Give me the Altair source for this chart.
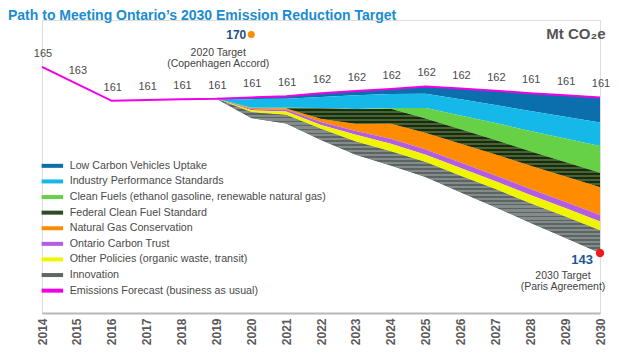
import altair as alt
import pandas as pd

# ---------------- data ----------------
years_all = list(range(2014, 2031))
forecast = [164.9, 162.9, 160.9, 161.0, 161.1, 161.15, 161.3, 161.45, 161.8, 162.05,
            162.3, 162.6, 162.35, 162.1, 161.8, 161.55, 161.3]
forecast_labels = [165, 163, 161, 161, 161, 161, 161, 161, 162, 162, 162, 162, 162, 162,
                   161, 161, 161]

years_red = list(range(2019, 2031))
categories = [
    "Low Carbon Vehicles Uptake",
    "Industry Performance Standards",
    "Clean Fuels (ethanol gasoline, renewable natural gas)",
    "Federal Clean Fuel Standard",
    "Natural Gas Conservation",
    "Ontario Carbon Trust",
    "Other Policies (organic waste, transit)",
    "Innovation",
]
line_label = "Emissions Forecast (business as usual)"

low_carbon_vehicles = [0, 0.2, 0.3, 0.45, 0.5, 0.6, 0.85, 1.27, 1.69, 2.1, 2.52, 2.94]
industry_standards = [0, 1.0, 1.06, 1.3, 1.6, 1.65, 1.7, 1.91, 2.12, 2.34, 2.55, 2.76]
clean_fuels = [0, 0.05, 0.05, 0.05, 0.05, 0.1, 1.25, 1.64, 2.02, 2.41, 2.79, 3.18]
federal_cfs = [0, 0, 0, 1.2, 1.7, 1.7, 1.65, 1.66, 1.65, 1.66, 1.65, 1.65]
gas_conservation = [0, 0.12, 0.2, 0.4, 0.85, 1.8, 1.96, 2.23, 2.49, 2.76, 3.02, 3.29]
carbon_trust = [0, 0.15, 0.2, 0.35, 0.45, 0.6, 0.62, 0.65, 0.68, 0.7, 0.73, 0.76]
other_policies = [0, 0.23, 0.4, 0.45, 0.8, 0.9, 0.9, 0.93, 0.96, 1.0, 1.03, 1.06]
innovation = [0, 0.67, 1.0, 1.3, 1.55, 1.65, 1.73, 1.91, 2.1, 2.28, 2.46, 2.65]

target_years = [2020, 2030]
target_values = [170, 143]
target_notes = ["2020 Target\n(Copenhagen Accord)", "2030 Target\n(Paris Agreement)"]

colors = ["#0b6fae", "#14b9ea", "#66d147", "#2f4a26", "#ff8b00", "#b35ee2",
          "#f0f500", "#5e6666", "#f000e6"]

# ---------------- tables ----------------
reductions = [low_carbon_vehicles, industry_standards, clean_fuels, federal_cfs,
              gas_conservation, carbon_trust, other_policies, innovation]
rows = []
for i, yr in enumerate(years_red):
    top = forecast[years_all.index(yr)]
    for cat, series in zip(categories, reductions):
        bottom = top - series[i]
        rows.append({"year": yr, "category": cat, "top": top, "bottom": bottom})
        top = bottom
df_area = pd.DataFrame(rows)

df_line = pd.DataFrame({"year": years_all, "value": forecast, "label": forecast_labels})
df_t = pd.DataFrame({"year": target_years, "value": target_values, "note": target_notes,
                     "label": [str(v) for v in target_values]})

# ---------------- scales / layout ----------------
W, H = 558, 293
K = 8.5
VMIN = 143 - 60 / K
VMAX = 143 + 233 / K
FONT = "Liberation Sans"

xs = alt.Scale(domain=[2014, 2030], nice=False, zero=False)
ys = alt.Scale(domain=[VMIN, VMAX], nice=False, zero=False)
xaxis = alt.Axis(title=None, values=years_all, format="d", labelAngle=-90, ticks=False,
                 grid=False, domainColor="#b8b8b8", domainWidth=2, labelColor="#5a5a5a",
                 labelFontSize=12, labelFontWeight="bold", labelPadding=5, labelFont=FONT)
yaxis = alt.Axis(title="Mt CO₂e", orient="right", labels=False, ticks=False, domain=False,
                 grid=False, titleAngle=0, titleAlign="right", titleBaseline="middle",
                 titleX=5, titleY=13, titleFontSize=15, titleColor="#555555",
                 titleFontWeight="bold", titleFont=FONT)


def X():
    return alt.X("year:Q", scale=xs, axis=xaxis)


def Y(field):
    return alt.Y(field, scale=ys, axis=yaxis)


def ypx(v):
    return (VMAX - v) / (VMAX - VMIN) * H


def stripes(cat, c1, c2, period=4.0, frac=0.55):
    d = df_area[df_area.category == cat]
    vals = list(d.top) + list(d.bottom)
    h = ypx(min(vals)) - ypx(max(vals))
    n = max(1, round(h / period))
    stops = []
    for i in range(n):
        a, m, b = i / n, (i + frac) / n, (i + 1) / n
        stops += [alt.GradientStop(color=c1, offset=a), alt.GradientStop(color=c1, offset=m),
                  alt.GradientStop(color=c2, offset=m), alt.GradientStop(color=c2, offset=b)]
    return alt.LinearGradient(gradient="linear", stops=stops, x1=0, x2=0, y1=0, y2=1)


legend = alt.Legend(title=None, orient="none", legendX=5, legendY=140.5,
                    symbolType="M-2.15,-0.4H2.15V0.4H-2.15Z", symbolSize=100,
                    symbolStrokeWidth=0, symbolOpacity=1, labelFontSize=10.7,
                    labelColor="#4a4a4a", labelLimit=400, rowPadding=3.6, labelOffset=12,
                    labelFont=FONT)

areas = alt.Chart(df_area).mark_area(interpolate="linear", strokeWidth=0).encode(
    x=X(), y=Y("top:Q"), y2="bottom:Q",
    color=alt.Color("category:N", scale=alt.Scale(domain=categories + [line_label], range=colors),
                    legend=legend),
)

fcfs = alt.Chart(df_area).transform_filter(alt.datum.category == categories[3]).mark_area(
    interpolate="linear", color=stripes(categories[3], "#45652f", "#1c2a16")
).encode(x=X(), y=Y("top:Q"), y2="bottom:Q")

innov = alt.Chart(df_area).transform_filter(alt.datum.category == categories[7]).mark_area(
    interpolate="linear", color=stripes(categories[7], "#838b8b", "#5c6464")
).encode(x=X(), y=Y("top:Q"), y2="bottom:Q")

line = alt.Chart(df_line).mark_line(color="#f000e6", strokeWidth=2).encode(x=X(), y=Y("value:Q"))

line_text = alt.Chart(df_line).mark_text(dy=-13, dx=1, fontSize=11, color="#4a4a4a",
                                         font=FONT).encode(x=X(), y=Y("value:Q"),
                                                           text="label:N")

t20 = df_t[df_t.year == 2020]
t30 = df_t[df_t.year == 2030]
# the 2020 target is drawn a little below its scale position, as in the original infographic
dot20 = alt.Chart(t20).mark_circle(size=50, opacity=1, color="#ff8c00", yOffset=11).encode(
    x=X(), y=Y("value:Q"))
dot30 = alt.Chart(t30).mark_circle(size=70, opacity=1, color="#ee1c1c").encode(x=X(), y=Y("value:Q"))
lab20 = alt.Chart(t20).mark_text(align="right", dx=-5, yOffset=11, fontSize=12, fontWeight="bold",
                                 color="#1d4f84", font=FONT).encode(x=X(), y=Y("value:Q"), text="label:N")
lab30 = alt.Chart(t30).mark_text(align="right", dx=-7, dy=7, fontSize=13, fontWeight="bold",
                                 color="#1a5896", font=FONT).encode(x=X(), y=Y("value:Q"), text="label:N")
note20 = alt.Chart(t20).mark_text(align="center", baseline="middle", dx=-33, dy=29,
                                  lineBreak="\n", lineHeight=11, fontSize=10.5, color="#444444",
                                  font=FONT).encode(x=X(), y=Y("value:Q"), text="note:N")
note30 = alt.Chart(t30).mark_text(align="center", baseline="middle", dx=-37, dy=23,
                                  lineBreak="\n", lineHeight=11, fontSize=10.5, color="#444444",
                                  font=FONT).encode(x=X(), y=Y("value:Q"), text="note:N")

chart = alt.layer(areas, fcfs, innov, line, line_text, dot20, dot30, lab20, lab30, note20, note30).properties(
    width=W, height=H,
    autosize=alt.AutoSizeParams(type="none"),
    padding={"left": 34, "top": 12, "right": 12, "bottom": 39},
    title=alt.TitleParams(text="Path to Meeting Ontario’s 2030 Emission Reduction Target",
                          anchor="start", frame="group", dx=-34, dy=3, fontSize=14,
                          fontWeight="bold", color="#1b8cd0", font=FONT, offset=0),
).configure_view(stroke=None).configure(font=FONT, background="white")

chart.save("out.html", embed_options={"renderer": "svg", "actions": False})
